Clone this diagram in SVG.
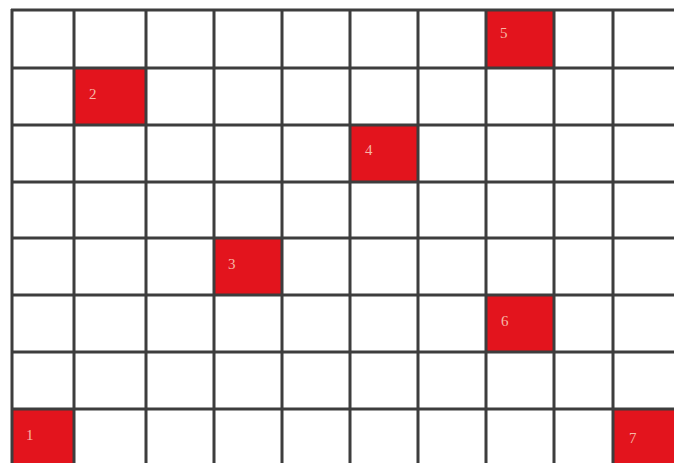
<svg xmlns="http://www.w3.org/2000/svg" width="674" height="463" viewBox="0 0 674 463">
<style>
.cell{fill:#e3141d}
.lbl{font-family:"Liberation Serif",serif;font-size:15px;fill:#f6b7a6}
.grid line{stroke:#3d3d3d;stroke-width:3}
</style>
<rect width="674" height="463" fill="#ffffff"/>
<g id="cell1"><rect class="cell" x="12" y="409" width="62" height="54"/><text class="lbl" x="26" y="440">1</text></g>
<g id="cell2"><rect class="cell" x="74" y="68" width="72" height="57"/><text class="lbl" x="89" y="99">2</text></g>
<g id="cell3"><rect class="cell" x="214" y="238" width="68" height="57"/><text class="lbl" x="228" y="269">3</text></g>
<g id="cell4"><rect class="cell" x="350" y="125" width="68" height="57"/><text class="lbl" x="365" y="155">4</text></g>
<g id="cell5"><rect class="cell" x="486" y="10" width="68" height="58"/><text class="lbl" x="500" y="38">5</text></g>
<g id="cell6"><rect class="cell" x="486" y="295" width="68" height="57"/><text class="lbl" x="501" y="326">6</text></g>
<g id="cell7"><rect class="cell" x="613" y="409" width="61" height="54"/><text class="lbl" x="629" y="443">7</text></g>
<g class="grid" id="grid">
<line x1="12" y1="9" x2="12" y2="463"/>
<line x1="74" y1="9" x2="74" y2="463"/>
<line x1="146" y1="9" x2="146" y2="463"/>
<line x1="214" y1="9" x2="214" y2="463"/>
<line x1="282" y1="9" x2="282" y2="463"/>
<line x1="350" y1="9" x2="350" y2="463"/>
<line x1="418" y1="9" x2="418" y2="463"/>
<line x1="486" y1="9" x2="486" y2="463"/>
<line x1="554" y1="9" x2="554" y2="463"/>
<line x1="613" y1="9" x2="613" y2="463"/>
<line x1="11" y1="10" x2="674" y2="10"/>
<line x1="11" y1="68" x2="674" y2="68"/>
<line x1="11" y1="125" x2="674" y2="125"/>
<line x1="11" y1="182" x2="674" y2="182"/>
<line x1="11" y1="238" x2="674" y2="238"/>
<line x1="11" y1="295" x2="674" y2="295"/>
<line x1="11" y1="352" x2="674" y2="352"/>
<line x1="11" y1="409" x2="674" y2="409"/>
</g>
</svg>
